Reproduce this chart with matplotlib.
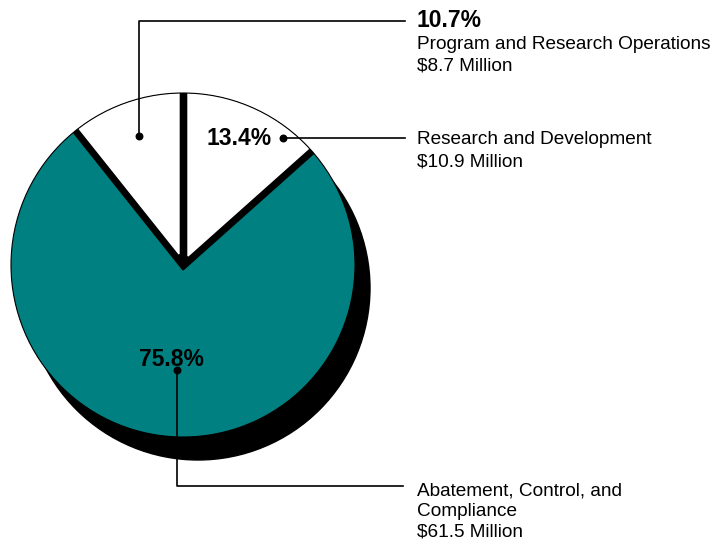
import matplotlib.pyplot as plt
from matplotlib.patches import Circle, Wedge
import numpy as np

plt.rcParams['font.family'] = ['Liberation Sans', 'DejaVu Sans']

# Budget split (percent of total, $ millions)
categories = ["Research and Development", "Abatement, Control, and\nCompliance",
              "Program and Research Operations"]
shares = [13.4, 75.8, 10.7]
amounts = [10.9, 61.5, 8.7]
colors = ["white", "#008080", "white"]

W, H = 715, 540

def py(y):
    # pixel row (top-down) -> y-up axis coordinate
    return H - y

fig = plt.figure(figsize=(7.15, 5.4), dpi=100)
ax = fig.add_axes([0, 0, 1, 1])
ax.set_xlim(0, W)
ax.set_ylim(0, H)
ax.axis("off")

cx, cy, r = 183, py(265), 172

# slice angles, clockwise from 12 o'clock
fr = np.array(shares) / sum(shares) * 360
a_rd = (90 - fr[0], 90)
a_ab = (90 + fr[2], 90 - fr[0] + 360)
a_pr = (90, 90 + fr[2])

# drop shadow
ax.add_patch(Circle((cx + 15, cy - 23), r, color="black", zorder=1))

base = Circle((cx, cy), r, facecolor=colors[1], edgecolor="none", zorder=2)
ax.add_patch(base)

# dark sides under the two raised slices
side = Wedge((183, py(270)), r + 40, a_rd[0], a_pr[1], color="black", zorder=3)
ax.add_patch(side)
side.set_clip_path(base)

w_rd = Wedge((188, py(256)), r + 40, a_rd[0], a_rd[1], color=colors[0], zorder=4)
w_pr = Wedge((179, py(254)), r + 40, a_pr[0], a_pr[1], color=colors[2], zorder=4)
for w in (w_rd, w_pr):
    ax.add_patch(w)
    w.set_clip_path(base)

ax.add_patch(Circle((cx, cy), r, fill=False, edgecolor="black", lw=0.8, zorder=5))

# leader lines and dots
lw = 1.2
ax.plot([139, 139, 405], [py(136), py(21), py(21)], color="black", lw=lw, zorder=6)
ax.plot([283, 405], [py(138), py(138)], color="black", lw=lw, zorder=6)
ax.plot([177, 177, 403], [py(370), py(486), py(486)], color="black", lw=lw, zorder=6)
ax.scatter([139, 283, 177], [py(136), py(138), py(370)], s=22, color="black", zorder=7)

# percentage labels
pct = dict(fontsize=16.5, fontweight="bold", color="black", zorder=8)
ax.text(207, py(145), f"{shares[0]}%", ha="left", va="baseline", **pct)
ax.text(139, py(366), f"{shares[1]}%", ha="left", va="baseline", **pct)
ax.text(417, py(27), f"{shares[2]}%", ha="left", va="baseline", **pct)

# category labels
lab = dict(fontsize=13.7, color="black", ha="left", va="baseline")
ax.text(417, py(49), categories[2], **lab)
ax.text(417, py(71), f"${amounts[2]} Million", **lab)
ax.text(417, py(144), categories[0], **lab)
ax.text(417, py(166), f"${amounts[0]} Million", **lab)
for i, line in enumerate(categories[1].split("\n") + [f"${amounts[1]} Million"]):
    ax.text(417, py(495 + 20.5 * i), line, **lab)

plt.savefig("out.png", dpi=100)
